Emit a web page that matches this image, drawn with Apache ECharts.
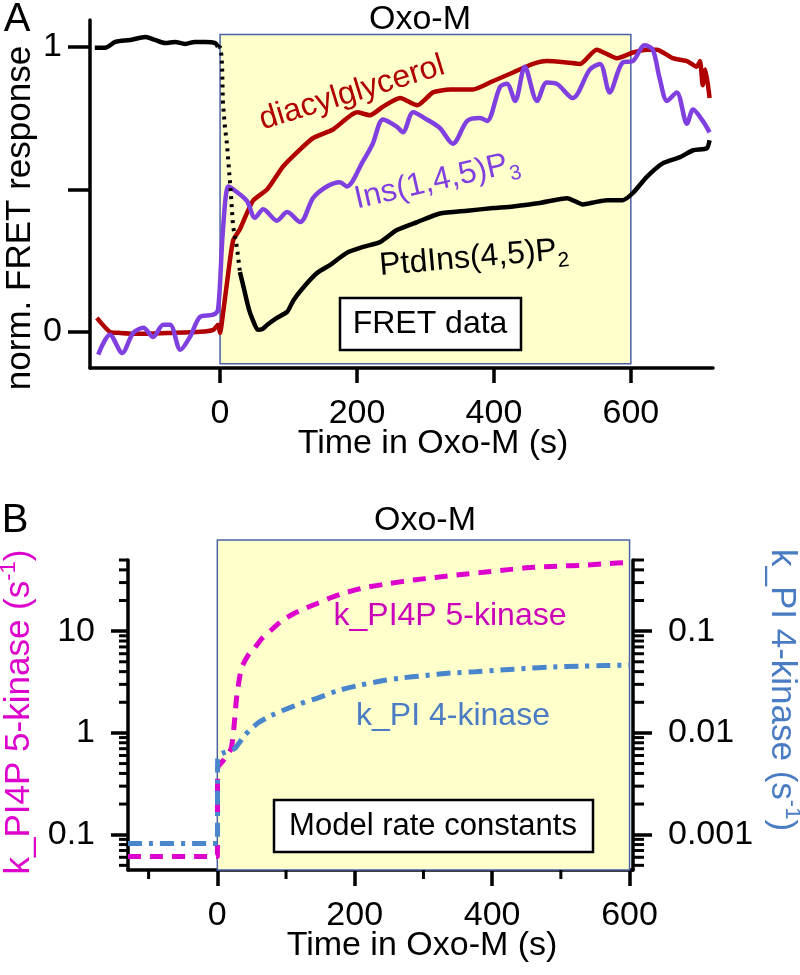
<!DOCTYPE html>
<html style="height: 100%">
<head>
    <meta charset="utf-8">
</head>
<body style="height: 100%; margin: 0">
<div id="container" style="width: 800px; height: 975px"></div>

<script type="text/javascript" src="https://cdn.jsdelivr.net/npm/echarts@6/dist/echarts.min.js"></script>
<script type="text/javascript">
    var FONT = '"Liberation Sans", Arial, sans-serif';

    // ---- panel A: FRET data, [time (s), normalised response] ----
    var pip2Before = [[-183, 0.997], [-168, 0.997], [-153, 1.017], [-131, 1.024], [-109, 1.034], [-95, 1.024],
        [-80, 1.013], [-66, 1.017], [-51, 1.01], [-37, 1.017], [-22, 1.017], [-7, 1.013], [-3, 0.999]];
    var pip2Drop = [[-3, 0.999], [0, 1.0], [2, 0.97], [3, 0.93], [4, 0.81], [7, 0.72], [10, 0.66],
        [15, 0.51], [19, 0.37], [25, 0.29], [29, 0.21]];
    var pip2After = [[29, 0.21], [35, 0.15], [42, 0.08], [48, 0.04], [55, 0.007], [62, 0.01], [69, 0.025],
        [83, 0.049], [98, 0.07], [107, 0.11], [121, 0.154], [142, 0.207], [161, 0.235], [185, 0.277],
        [209, 0.298], [234, 0.315], [258, 0.357], [288, 0.385], [321, 0.415], [361, 0.425], [399, 0.434],
        [428, 0.44], [467, 0.452], [507, 0.469], [530, 0.447], [548, 0.455], [565, 0.462], [588, 0.462],
        [603, 0.487], [623, 0.543], [647, 0.592], [672, 0.613], [691, 0.637], [711, 0.644], [715, 0.672]];
    var dagTrace = [[-180, 0.049], [-161, 0], [-146, -0.004], [-117, -0.007], [-77, -0.004], [-29, 0],
        [-10, 0.007], [-3, 0.025], [0, -0.004], [3, 0.04], [10, 0.17], [19, 0.32], [29, 0.36], [48, 0.46],
        [69, 0.5], [92, 0.58], [117, 0.64], [136, 0.68], [165, 0.71], [200, 0.77], [219, 0.76], [238, 0.79],
        [263, 0.82], [288, 0.795], [311, 0.84], [336, 0.85], [369, 0.85], [399, 0.88], [428, 0.91],
        [457, 0.94], [477, 0.95], [507, 0.945], [526, 0.94], [550, 0.99], [580, 0.96], [603, 0.98],
        [623, 0.99], [638, 0.99], [661, 0.96], [682, 0.95], [696, 0.93], [701, 0.95], [705, 0.865],
        [709, 0.92], [715, 0.82]];
    var ip3Trace = [[-178, -0.08], [-161, -0.01], [-143, -0.074], [-127, -0.004], [-112, 0.014], [-98, -0.018],
        [-83, 0.025], [-73, 0.025], [-58, -0.063], [-44, -0.018], [-29, 0.053], [-10, 0.06], [-3, 0.077],
        [4, 0.35], [12, 0.51], [19, 0.5], [39, 0.46], [51, 0.4], [63, 0.43], [83, 0.39], [98, 0.42],
        [117, 0.385], [136, 0.47], [156, 0.51], [175, 0.525], [185, 0.51], [209, 0.6], [223, 0.66],
        [238, 0.745], [258, 0.72], [267, 0.7], [282, 0.77], [302, 0.745], [321, 0.715], [340, 0.66],
        [361, 0.74], [380, 0.75], [390, 0.74], [409, 0.86], [419, 0.87], [431, 0.81], [445, 0.93],
        [463, 0.81], [477, 0.875], [492, 0.87], [515, 0.82], [540, 0.92], [555, 0.94], [569, 0.84],
        [588, 0.945], [603, 0.95], [620, 1.005], [632, 0.99], [642, 0.89], [653, 0.81], [667, 0.84],
        [682, 0.73], [691, 0.78], [705, 0.74], [715, 0.7]];
    var aXTicks = [0, 200, 400, 600];
    var aYTicks = [0, 0.5, 1];
    var aYLabels = [0, 1];

    // ---- panel B: model rate constants, [time (s), rate (1/s)] ----
    var kPIP5K = [[-130, 0.061], [0, 0.061], [0.5, 0.45], [10, 0.55], [20, 0.7], [24, 1.1], [28, 2.2],
        [35, 4.3], [45, 5.8], [54, 6.8], [65, 8.5], [78, 10.2], [95, 12.8], [112, 15.0], [130, 17],
        [146, 18.8], [165, 21.3], [184, 23.6], [215, 26.8], [252, 29.5], [285, 31.8], [320, 33.8],
        [355, 36], [387, 37.9], [420, 40], [459, 42.4], [495, 43.5], [532, 44.4], [565, 46], [600, 47.5]];
    var kPI4K = [[-130, 0.00082], [0, 0.00082], [0.5, 0.0055], [5, 0.0062], [10, 0.0064], [25, 0.007],
        [40, 0.0095], [59, 0.0125], [78, 0.0148], [97, 0.0168], [120, 0.0193], [146, 0.022], [175, 0.026],
        [209, 0.0296], [240, 0.0325], [267, 0.0346], [300, 0.0365], [339, 0.0387], [375, 0.04],
        [412, 0.0415], [450, 0.043], [484, 0.0444], [532, 0.0453], [565, 0.046], [600, 0.0464]];
    var bXTicks = [0, 200, 400, 600];
    var bXMinor = [-100, 100, 300, 500];
    var leftDecades = [0.1, 1, 10];
    var rightDecades = [0.001, 0.01, 0.1];
    var leftMinor = [0.05, 0.06, 0.07, 0.08, 0.09, 0.2, 0.3, 0.4, 0.5, 0.6, 0.7, 0.8, 0.9,
        2, 3, 4, 5, 6, 7, 8, 9, 20, 30, 40, 50];
    var oxoWindowA = [[0, 600, 1.043, -0.112]];
    var oxoWindowB = [[0, 600, 50, 0.045]];

    var dom = document.getElementById('container');
    var myChart = echarts.init(dom);

    function oxoBox(extraTop) {
        return function (params, api) {
            var p0 = api.coord([api.value(0), api.value(2)]);
            var p1 = api.coord([api.value(1), api.value(3)]);
            return {
                type: 'rect',
                shape: {x: p0[0], y: p0[1] - extraTop, width: p1[0] - p0[0], height: p1[1] - p0[1] + extraTop},
                style: {fill: '#FFFFCC', stroke: '#4A62A6', lineWidth: 1.5}
            };
        };
    }

    // minor ticks on both log axes (left ticks point left, right ticks point right)
    function logMinorTicks(params, api) {
        var v = api.value(0);
        var l = api.coord([-130, v]);
        var r = api.coord([605, v]);
        return {
            type: 'group', children: [
                {type: 'line', shape: {x1: l[0] - 9, y1: l[1], x2: l[0], y2: l[1]}, style: {stroke: '#000', lineWidth: 3}},
                {type: 'line', shape: {x1: r[0], y1: r[1], x2: r[0] + 11, y2: r[1]}, style: {stroke: '#000', lineWidth: 3}}
            ]
        };
    }

    function timeMinorTicks(params, api) {
        var p = api.coord([api.value(0), 0.045]);
        return {type: 'line', shape: {x1: p[0], y1: p[1], x2: p[0], y2: p[1] + 9}, style: {stroke: '#000', lineWidth: 3}};
    }

    function axisText(size) {
        return {fontSize: size, color: '#000', fontFamily: FONT};
    }

    function label(x, y, text, size, color, rot, rich) {
        return {
            type: 'text', x: x, y: y, rotation: (rot || 0) * Math.PI / 180, z: 50,
            style: {text: text, fontSize: size, fontFamily: FONT, fill: color, align: 'center', verticalAlign: 'middle', rich: rich}
        };
    }

    var subRich = {
        m: {fontSize: 32, lineHeight: 42, fontFamily: FONT},
        s: {fontSize: 21, fontFamily: FONT, verticalAlign: 'bottom'}
    };
    function supRich(color) {
        return {
            m: {fontSize: 35, lineHeight: 42, fontFamily: FONT, color: color},
            u: {fontSize: 22, fontFamily: FONT, color: color, verticalAlign: 'top'}
        };
    }

    var option = {
        animation: false,
        grid: [
            {left: 90, top: 20, width: 623, height: 348},
            {left: 128, top: 560, width: 505, height: 310}
        ],
        xAxis: [{
            gridIndex: 0, type: 'value', min: -190, max: 720,
            axisLine: {onZero: false, lineStyle: {color: '#000', width: 3.5}},
            axisTick: {length: 15, customValues: aXTicks, lineStyle: {color: '#000', width: 3.5}},
            axisLabel: Object.assign({customValues: aXTicks, margin: 29}, axisText(34)),
            splitLine: {show: false}
        }, {
            gridIndex: 1, type: 'value', min: -130, max: 605,
            axisLine: {onZero: false, lineStyle: {color: '#000', width: 3.5}},
            axisTick: {length: 16, customValues: bXTicks, lineStyle: {color: '#000', width: 3.5}},
            axisLabel: Object.assign({customValues: bXTicks, margin: 29}, axisText(34)),
            splitLine: {show: false}
        }],
        yAxis: [{
            gridIndex: 0, type: 'value', min: -0.127, max: 1.094,
            axisLine: {show: true, onZero: false, lineStyle: {color: '#000', width: 3.5}},
            axisTick: {show: true, length: 22, customValues: aYTicks, lineStyle: {color: '#000', width: 3.5}},
            axisLabel: Object.assign({customValues: aYLabels, margin: 28}, axisText(34)),
            splitLine: {show: false}
        }, {
            gridIndex: 1, type: 'log', logBase: 10, min: 0.045, max: 50, position: 'left',
            axisLine: {show: true, onZero: false, lineStyle: {color: '#000', width: 3.5}},
            axisTick: {show: true, length: 17, customValues: leftDecades, lineStyle: {color: '#000', width: 3.5}},
            axisLabel: Object.assign({customValues: leftDecades, margin: 33}, axisText(34)),
            splitLine: {show: false}
        }, {
            gridIndex: 1, type: 'log', logBase: 10, min: 0.00045, max: 0.5, position: 'right',
            axisLine: {show: true, onZero: false, lineStyle: {color: '#000', width: 3.5}},
            axisTick: {show: true, length: 19, customValues: rightDecades, lineStyle: {color: '#000', width: 3.5}},
            axisLabel: Object.assign({customValues: rightDecades, margin: 35}, axisText(34)),
            splitLine: {show: false}
        }],
        series: [
            {type: 'custom', xAxisIndex: 0, yAxisIndex: 0, z: 1, clip: false, silent: true,
                renderItem: oxoBox(0), data: oxoWindowA},
            {type: 'custom', xAxisIndex: 1, yAxisIndex: 1, z: 1, clip: false, silent: true,
                renderItem: oxoBox(20), data: oxoWindowB},
            {type: 'line', name: 'diacylglycerol', xAxisIndex: 0, yAxisIndex: 0, data: dagTrace,
                showSymbol: false, smooth: 0.2, lineStyle: {color: '#B00000', width: 4.5}},
            {type: 'line', name: 'Ins(1,4,5)P3', xAxisIndex: 0, yAxisIndex: 0, data: ip3Trace,
                showSymbol: false, smooth: 0.3, lineStyle: {color: '#8040E0', width: 4.5}},
            {type: 'line', name: 'PIP2 before', xAxisIndex: 0, yAxisIndex: 0, data: pip2Before,
                showSymbol: false, smooth: 0.3, lineStyle: {color: '#000', width: 4.5}},
            {type: 'line', name: 'PIP2 drop', xAxisIndex: 0, yAxisIndex: 0, data: pip2Drop,
                showSymbol: false, lineStyle: {color: '#000', width: 4, type: [3, 5]}},
            {type: 'line', name: 'PIP2 after', xAxisIndex: 0, yAxisIndex: 0, data: pip2After,
                showSymbol: false, smooth: 0.2, lineStyle: {color: '#000', width: 4.5}},
            {type: 'line', name: 'k_PI4P 5-kinase', xAxisIndex: 1, yAxisIndex: 1, data: kPIP5K,
                showSymbol: false, smooth: 0.2, lineStyle: {color: '#DD00CC', width: 5, type: [13, 9]}},
            {type: 'line', name: 'k_PI 4-kinase', xAxisIndex: 1, yAxisIndex: 2, data: kPI4K,
                showSymbol: false, smooth: 0.2, lineStyle: {color: '#4A86CC', width: 5, type: [14, 7, 4, 7]}},
            {type: 'custom', xAxisIndex: 1, yAxisIndex: 1, z: 5, clip: false, silent: true,
                renderItem: logMinorTicks, data: leftMinor.map(function (v) { return [v]; }),
                encode: {y: 0}},
            {type: 'custom', xAxisIndex: 1, yAxisIndex: 1, z: 5, clip: false, silent: true,
                renderItem: timeMinorTicks, data: bXMinor.map(function (v) { return [v]; }),
                encode: {x: 0}}
        ],
        graphic: [
            label(17, 20, 'A', 40, '#000'),
            label(15, 521, 'B', 40, '#000'),
            label(420, 20, 'Oxo-M', 34, '#000'),
            label(425, 521, 'Oxo-M', 34, '#000'),
            label(433, 444, 'Time in Oxo-M (s)', 34, '#000'),
            label(422, 946, 'Time in Oxo-M (s)', 34, '#000'),
            label(20, 218, 'norm. FRET response', 35, '#000', 90),
            label(19, 712, '{m|k_PI4P 5-kinase (s}{u|-1}{m|)}', 35, '#DD00CC', 90, supRich('#DD00CC')),
            label(782, 690, '{m|k_PI 4-kinase (s}{u|-1}{m|)}', 35, '#4A7CC4', -90, supRich('#4A7CC4')),
            label(352, 93, 'diacylglycerol', 32, '#B00000', 17),
            label(437, 181, '{m|Ins(1,4,5)P}{s|3}', 32, '#8040E0', 13, subRich),
            label(474, 258, '{m|PtdIns(4,5)P}{s|2}', 32, '#000', 5, subRich),
            label(450, 616, 'k_PI4P 5-kinase', 32, '#CC00BB'),
            label(453, 716, 'k_PI 4-kinase', 32, '#4A7CC4'),
            {type: 'rect', shape: {x: 340, y: 298, width: 181, height: 52}, z: 40,
                style: {fill: '#fff', stroke: '#000', lineWidth: 2.5}},
            label(430, 324, 'FRET data', 32, '#000'),
            {type: 'rect', shape: {x: 274, y: 800, width: 319, height: 52}, z: 40,
                style: {fill: '#fff', stroke: '#000', lineWidth: 2.5}},
            label(433, 826, 'Model rate constants', 31, '#000')
        ]
    };

    if (option && typeof option === 'object') {
        myChart.setOption(option);
    }
</script>
</body>
</html>
